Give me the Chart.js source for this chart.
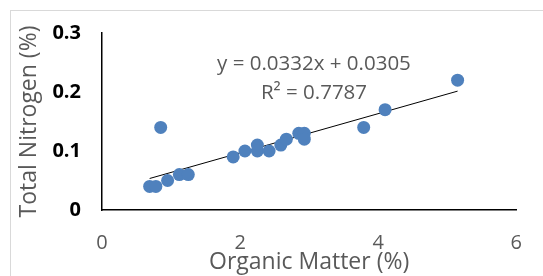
<!DOCTYPE html>
<html>
<head>
<meta charset="utf-8">
<script src="https://cdn.jsdelivr.net/npm/chart.js@4/dist/chart.umd.min.js"></script>
<style>
html,body{margin:0;padding:0;background:#fff;}
#wrap{position:relative;width:543px;height:276px;}
</style>
</head>
<body>
<div id="wrap"><canvas id="c" width="543" height="276"></canvas></div>
<script>
// Data
const organicMatter = [0.69, 0.78, 0.95, 1.12, 1.25, 0.85, 1.90, 2.07, 2.25, 2.25, 2.42, 2.59, 2.67, 2.85, 2.93, 2.93, 3.79, 4.10, 5.15];
const totalNitrogen = [0.04, 0.04, 0.05, 0.06, 0.06, 0.14, 0.09, 0.10, 0.11, 0.10, 0.10, 0.11, 0.12, 0.13, 0.13, 0.12, 0.14, 0.17, 0.22];
const trendSlope = 0.0332;
const trendIntercept = 0.0305;
const rSquared = 0.7787;
const xTicks = [0, 2, 4, 6];
const yTicks = [0, 0.1, 0.2, 0.3];

const FONT = "'Open Sans', 'Liberation Sans', sans-serif";
const points = organicMatter.map((x, i) => ({x: x, y: totalNitrogen[i]}));
const xMin = Math.min(...organicMatter), xMax = Math.max(...organicMatter);
const trend = [xMin, xMax].map(x => ({x: x, y: trendSlope * x + trendIntercept}));

const frame = {
  id: 'frame',
  beforeDraw(chart) {
    const ctx = chart.ctx;
    ctx.save();
    ctx.fillStyle = '#fff';
    ctx.fillRect(0, 0, chart.width, chart.height);
    ctx.strokeStyle = '#d9d9d9';
    ctx.lineWidth = 1;
    ctx.strokeRect(10.5, 10.5, chart.width + 10, chart.height + 10);
    ctx.restore();
  }
};
const eqLabel = {
  id: 'eqLabel',
  afterDatasetsDraw(chart) {
    const ctx = chart.ctx, xs = chart.scales.x, ys = chart.scales.y;
    ctx.save();
    ctx.fillStyle = '#595959';
    ctx.font = '20.5px ' + FONT;
    ctx.textAlign = 'center';
    ctx.textBaseline = 'middle';
    const cx = xs.getPixelForValue(3.07);
    ctx.fillText('y = ' + trendSlope + 'x + ' + trendIntercept, cx, ys.getPixelForValue(0.2475));
    ctx.fillText('R\u00B2 = ' + rSquared, cx, ys.getPixelForValue(0.1985));
    ctx.restore();
  }
};

new Chart(document.getElementById('c'), {
  type: 'scatter',
  data: {
    datasets: [
      {
        label: 'Total Nitrogen',
        data: points,
        backgroundColor: '#4f81bd',
        borderColor: '#4f81bd',
        pointRadius: 6.5,
        pointHoverRadius: 6.5,
        borderWidth: 0
      },
      {
        label: 'Linear trend',
        type: 'line',
        data: trend,
        borderColor: '#000',
        borderWidth: 1,
        pointRadius: 0,
        fill: false
      }
    ]
  },
  options: {
    responsive: false,
    animation: false,
    events: [],
    layout: {padding: {top: 28, right: 26, left: 16, bottom: 0}},
    plugins: {legend: {display: false}, tooltip: {enabled: false}},
    scales: {
      x: {
        type: 'linear',
        min: xTicks[0], max: xTicks[xTicks.length - 1],
        afterBuildTicks(s) { s.ticks = xTicks.map(v => ({value: v})); },
        grid: {display: false, drawTicks: false},
        border: {display: true, color: '#000', width: 1.5},
        ticks: {color: '#595959', font: {family: FONT, size: 20}, padding: 21, maxRotation: 0},
        title: {display: true, text: 'Organic Matter (%)', color: '#595959', font: {family: FONT, size: 23}, padding: {top: -9, bottom: 0}},
        afterFit(s) { s.height = 66; }
      },
      y: {
        type: 'linear',
        min: yTicks[0], max: yTicks[yTicks.length - 1],
        afterBuildTicks(s) { s.ticks = yTicks.map(v => ({value: v})); },
        grid: {display: false, drawTicks: false},
        border: {display: true, color: '#000', width: 1.5},
        ticks: {color: '#000', font: {family: FONT, size: 20, weight: 'bold'}, padding: 21, callback: v => String(Math.round(v * 10) / 10)},
        title: {display: true, text: 'Total Nitrogen (%)', color: '#595959', font: {family: FONT, size: 23}, padding: 0},
        afterFit(s) { s.width = 86; }
      }
    }
  },
  plugins: [frame, eqLabel]
});
</script>
</body>
</html>
